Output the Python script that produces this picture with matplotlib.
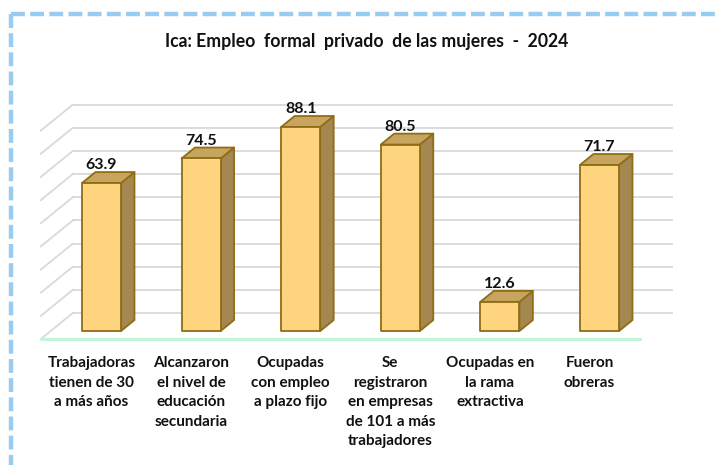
import matplotlib
matplotlib.use("Agg")
import matplotlib.pyplot as plt
from matplotlib.patches import Polygon
from matplotlib.lines import Line2D

plt.rcParams['font.family'] = ['Lato', 'DejaVu Sans']
plt.rcParams['lines.scale_dashes'] = False

categorias = [
    "Trabajadoras\ntienen de 30\na más años",
    "Alcanzaron\nel nivel de\neducación\nsecundaria",
    "Ocupadas\ncon empleo\na plazo fijo",
    "Se\nregistraron\nen empresas\nde 101 a más\ntrabajadores",
    "Ocupadas en\nla rama\nextractiva",
    "Fueron\nobreras",
]
valores = [63.9, 74.5, 88.1, 80.5, 12.6, 71.7]
grid_vals = list(range(0, 100, 10))
titulo = "Ica: Empleo  formal  privado  de las mujeres  -  2024"

# colours
c_front = "#FFD47F"
c_top = "#C8A55E"
c_side = "#A58752"
c_edge = "#8F6D14"
c_grid = "#D9D9D9"
c_floor = "#C4F5D8"

W, H = 718, 465
fig = plt.figure(figsize=(W / 100, H / 100), dpi=100)
ax = fig.add_axes([0, 0, 1, 1])

# pixel layout of the data axes
px0, pstep = 101.5, 99.6      # x pixel of category 0, pixels per category
py0, pscale = 331.0, 2.316    # y pixel of value 0, pixels per unit
ax.set_xlim((0 - px0) / pstep, (W - px0) / pstep)
ax.set_ylim((py0 - H) / pscale, py0 / pscale)
ax.axis("off")

# oblique depth vector (full floor depth) in data units
DX = 32 / pstep
DY = 26 / pscale
d_floor, d_wall = -0.31, 0.69
d_bar = 0.42
half_w = 0.196
x_left, x_right = -0.51, 5.51


def pt(x, v, d):
    return (x + d * DX, v + d * DY)


# back wall gridlines and left wall diagonals
for g in grid_vals:
    ax.plot(*zip(pt(x_left, g, d_wall), pt(x_right, g, d_wall)),
            color=c_grid, lw=1.3, zorder=1)
    ax.plot(*zip(pt(x_left, g, d_wall), pt(x_left, g, d_floor)),
            color=c_grid, lw=1.3, zorder=1)

# front edge of the floor
ax.plot(*zip(pt(x_left, 0, d_floor), pt(x_right, 0, d_floor)),
        color=c_floor, lw=2.2, zorder=2)

for i, v in enumerate(valores):
    l, r = i - half_w, i + half_w
    side = [pt(r, 0, 0), pt(r, 0, d_bar), pt(r, v, d_bar), pt(r, v, 0)]
    top = [pt(l, v, 0), pt(r, v, 0), pt(r, v, d_bar), pt(l, v, d_bar)]
    front = [pt(l, 0, 0), pt(r, 0, 0), pt(r, v, 0), pt(l, v, 0)]
    for verts, fc in ((side, c_side), (top, c_top), (front, c_front)):
        ax.add_patch(Polygon(verts, closed=True, facecolor=fc,
                             edgecolor=c_edge, lw=1.3, joinstyle="round",
                             zorder=3))
    ax.annotate(f"{v:.1f}", xy=(i, pt(i, v, d_bar)[1]), xytext=(0, 0),
                textcoords="offset points", ha="center", va="bottom",
                fontsize=11.5, fontweight="bold", color="#111111", zorder=4)
    cx, cy = pt(i, 0, d_floor)
    ax.annotate(categorias[i], xy=(cx, cy), xytext=(0, -12.5),
                textcoords="offset points", ha="center", va="top",
                fontsize=11, fontweight="bold", color="#111111",
                linespacing=1.5, multialignment="center")

fig.text(367 / W, 1 - 41 / H, titulo, ha="center", va="center",
         fontsize=12.7, fontweight="bold", color="#111111")

# dashed frame (top and left edges)
frame = dict(color="#99CCF2", lw=3.2, dashes=(10, 3.8),
             transform=fig.transFigure, solid_capstyle="butt")
fig.add_artist(Line2D([11 / W, 1.0], [1 - 14 / H, 1 - 14 / H], **frame))
fig.add_artist(Line2D([11 / W, 11 / W], [1 - 14 / H, 0.0], **frame))

fig.savefig("out.png", dpi=100)
